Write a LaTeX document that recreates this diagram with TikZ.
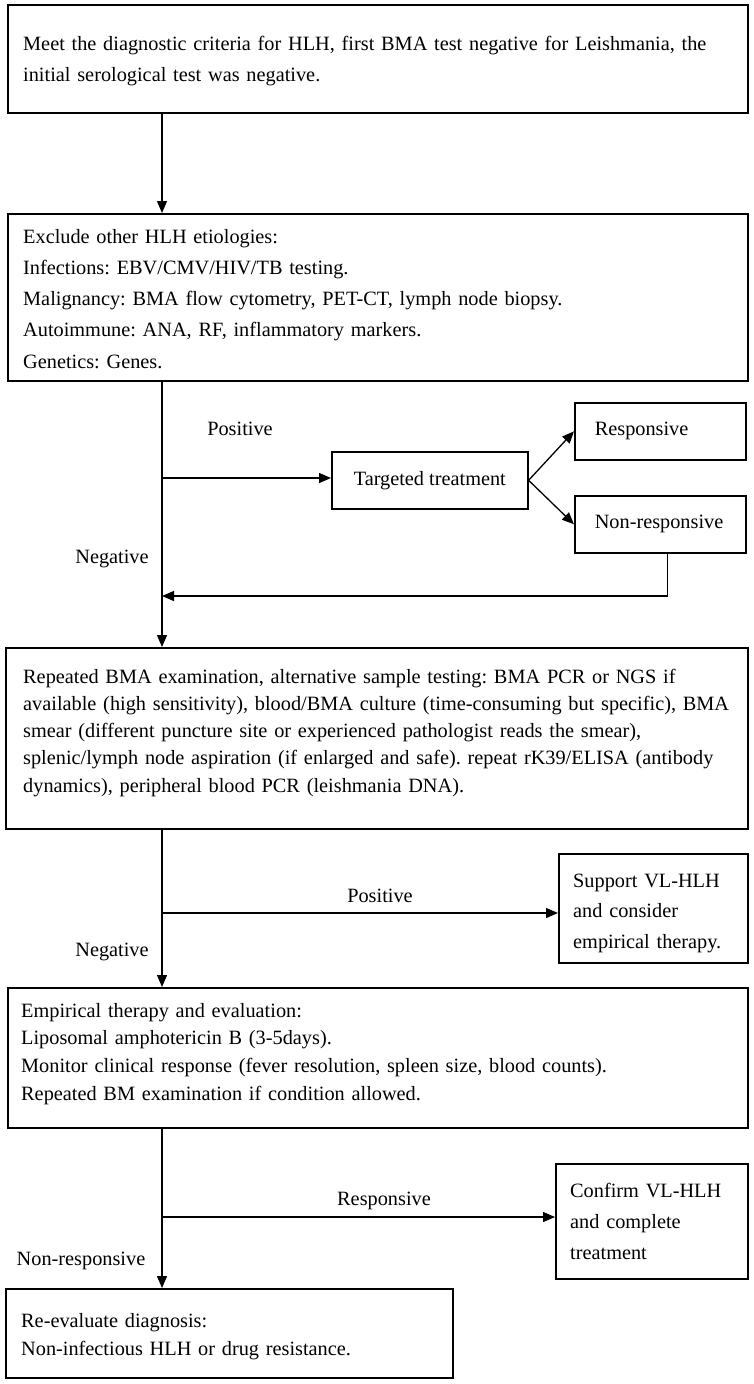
\documentclass[tikz,border=0pt]{standalone}
\usepackage{fontspec}
\setmainfont{Liberation Serif}
\usetikzlibrary{arrows.meta}
\frenchspacing
\begin{document}
\begin{tikzpicture}[x=1pt,y=-1pt,
  boxs/.style={draw=black, line width=1.6pt, inner sep=0pt, anchor=north west, font=\fontsize{20.3}{24}\selectfont},
  txt/.style={anchor=base west, inner sep=0pt, align=left},
  lbl/.style={anchor=base, inner sep=0pt, font=\fontsize{20.3}{24}\selectfont},
  arr/.style={line width=1.3pt, -{Triangle[length=12pt,width=10pt]}},
  ln/.style={line width=1.3pt}]
\useasboundingbox (0,0) rectangle (753,1384);
\fill[white] (0,0) rectangle (753,1384);
% boxes
\node[boxs, minimum width=740pt, minimum height=108pt] (b1) at (7,4) {};
\node[boxs, minimum width=740pt, minimum height=167pt] (b2) at (7,213) {};
\node[boxs, minimum width=196pt, minimum height=57pt] (tt) at (331,451) {Targeted treatment};
\node[boxs, minimum width=171pt, minimum height=57pt, text width=131pt, inner xsep=20pt, align=left] (resp) at (574,402) {Responsive};
\node[boxs, minimum width=171pt, minimum height=57pt, text width=131pt, inner xsep=20pt, align=left] (nonresp) at (574,495) {Non-responsive};
\node[boxs, minimum width=742pt, minimum height=181pt] (b3) at (5,647) {};
\node[boxs, minimum width=189pt, minimum height=109pt] (sup) at (558,853) {};
\node[boxs, minimum width=740pt, minimum height=140pt] (b4) at (7,987) {};
\node[boxs, minimum width=192pt, minimum height=115pt] (conf) at (555,1163) {};
\node[boxs, minimum width=447pt, minimum height=89pt] (b5) at (5,1288) {};
% box texts
\node[txt, text width=724pt, font=\fontsize{20.3}{31}\selectfont] (t1) at (23,50)
  {Meet the diagnostic criteria for HLH, first BMA test negative for Leishmania, the\\
   initial serological test was negative.};
\node[txt, text width=724pt, font=\fontsize{20.3}{31.25}\selectfont] (t2) at (23,243)
  {Exclude other HLH etiologies:\\
   Infections: EBV/CMV/HIV/TB testing.\\
   Malignancy: BMA flow cytometry, PET-CT, lymph node biopsy.\\
   Autoimmune: ANA, RF, inflammatory markers.\\
   Genetics: Genes.};
\node[txt, text width=724pt, font=\fontsize{20.3}{27.3}\selectfont] (t3) at (23,683)
  {Repeated BMA examination, alternative sample testing: BMA PCR or NGS if\\
   available (high sensitivity), blood/BMA culture (time-consuming but specific), BMA\\
   smear (different puncture site or experienced pathologist reads the smear),\\
   splenic/lymph node aspiration (if enlarged and safe). repeat rK39/ELISA (antibody\\
   dynamics), peripheral blood PCR (leishmania DNA).};
\node[txt, text width=170pt, font=\fontsize{20.3}{30.5}\selectfont] (tsup) at (573,887)
  {Support VL-HLH\\ and consider\\ empirical therapy.};
\node[txt, text width=724pt, font=\fontsize{20.3}{27.7}\selectfont] (t4) at (21,1017)
  {Empirical therapy and evaluation:\\
   Liposomal amphotericin B (3-5days).\\
   Monitor clinical response (fever resolution, spleen size, blood counts).\\
   Repeated BM examination if condition allowed.};
\node[txt, text width=175pt, font=\fontsize{20.3}{31}\selectfont] (tconf) at (570,1197)
  {Confirm VL-HLH\\ and complete\\ treatment};
\node[txt, text width=420pt, font=\fontsize{20.3}{28}\selectfont] (t5) at (21,1327)
  {Re-evaluate diagnosis:\\ Non-infectious HLH or drug resistance.};
% labels
\node[lbl] (lp1) at (240,435) {Positive};
\node[lbl] (ln1) at (112,563) {Negative};
\node[lbl] (lp2) at (380,902) {Positive};
\node[lbl] (ln2) at (112,956) {Negative};
\node[lbl] (lr) at (384,1205) {Responsive};
\node[lbl] (lnr) at (81,1265) {Non-responsive};
% connectors
\coordinate (s0) at (162,0);
\coordinate (j1) at (162,478);
\coordinate (fb) at (162,596);
\coordinate (j2) at (162,913);
\coordinate (j3) at (162,1217);
\draw[arr] (b1.south -| s0) -- (b2.north -| s0);
\draw[arr] (b2.south -| s0) -- (b3.north -| s0);
\draw[arr] (j1) -- (j1 -| tt.west);
\draw[arr] (tt.east) -- (resp.west);
\draw[arr] (tt.east) -- (nonresp.west);
\draw[arr] ([xshift=7pt]nonresp.south) |- (fb);
\draw[arr] (b3.south -| s0) -- (b4.north -| s0);
\draw[arr] (j2) -- (j2 -| sup.west);
\draw[arr] (b4.south -| s0) -- (b5.north -| s0);
\draw[arr] (j3) -- (j3 -| conf.west);
\end{tikzpicture}
\end{document}
